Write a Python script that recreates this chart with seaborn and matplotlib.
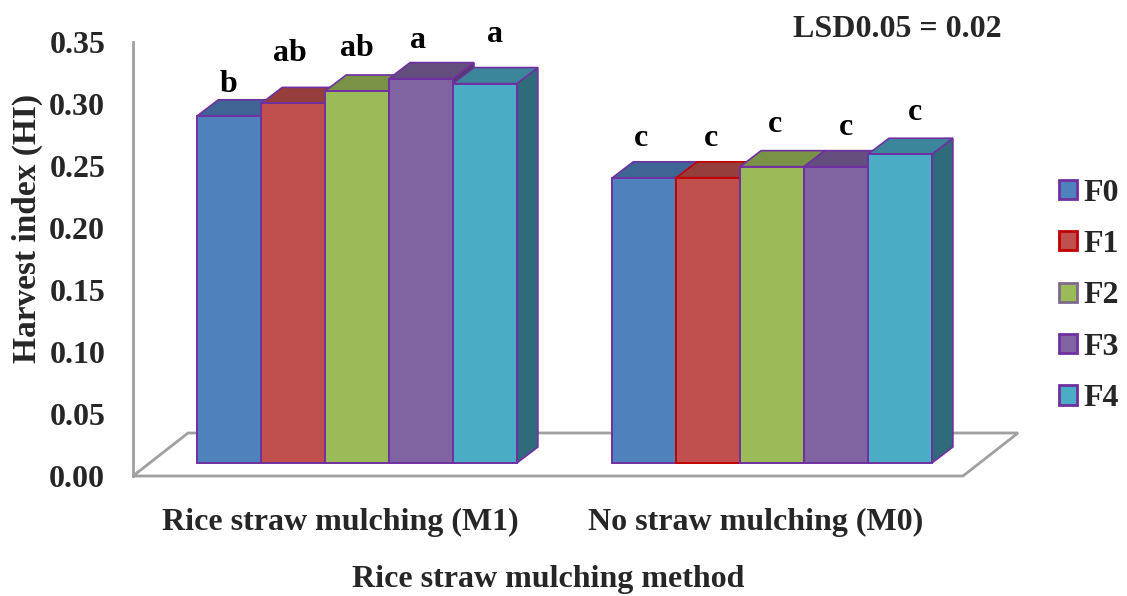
import numpy as np
import pandas as pd
import matplotlib
matplotlib.use("Agg")
import matplotlib.pyplot as plt
import matplotlib.colors as mcolors
from matplotlib import transforms
from matplotlib.patches import Polygon, Patch
import seaborn as sns

# ---- data -------------------------------------------------------------
methods = ["Rice straw mulching (M1)", "No straw mulching (M0)"]
fertilizers = ["F0", "F1", "F2", "F3", "F4"]
hi_m1 = [0.280, 0.290, 0.300, 0.310, 0.306]
hi_m0 = [0.230, 0.230, 0.239, 0.239, 0.249]
letters_m1 = ["b", "ab", "ab", "a", "a"]
letters_m0 = ["c", "c", "c", "c", "c"]
y_ticks = [0.00, 0.05, 0.10, 0.15, 0.20, 0.25, 0.30, 0.35]
lsd_label = "LSD0.05 = 0.02"
y_title = "Harvest index (HI)"
x_title = "Rice straw mulching method"

# ---- style ------------------------------------------------------------
face_colors = ["#4F81BD", "#C0504D", "#9BBB59", "#8064A2", "#4BACC6"]
legend_edges = ["#7030A0", "#C00000", "#7F6A8C", "#7030A0", "#7030A0"]
purple = "#7030A0"
axis_gray = "#A0A0A0"
FS = 23

# letter placement relative to the front top edge of each bar (pixels)
nudge_m1 = [(-1, 31), (-3, 50), (0, 42), (-3, 38), (10, 49)]
nudge_m0 = [(-3, 39), (3, 39), (3, 42), (10, 39), (15, 42)]

# pseudo-3D geometry (pixels): floor depth, bar position in depth, bar depth
FLOOR_DX, FLOOR_DY = 55, 43
FRONT_DX, FRONT_DY = 16.6, 13
BAR_DX, BAR_DY = 21, 16

sns.set_style("white")
plt.rcParams["font.family"] = ["Liberation Serif", "DejaVu Serif"]
plt.rcParams["font.weight"] = "bold"

df = pd.DataFrame({
    "method": np.repeat(methods, len(fertilizers)),
    "fert": fertilizers * len(methods),
    "hi": hi_m1 + hi_m0,
})

W, H, DPI = 1127, 596, 100
fig = plt.figure(figsize=(W / DPI, H / DPI), dpi=DPI)
ax = fig.add_axes([133 / W, 1 - 476 / H, (963 - 133) / W, (476 - 42) / H])

sns.barplot(data=df, x="method", y="hi", hue="fert", order=methods,
            hue_order=fertilizers, palette=face_colors, saturation=1,
            width=0.77, legend=False, ax=ax)

ax.set_xlim(-0.5, 1.5)
ax.set_ylim(0, 0.35)

# bars stand a little behind the front edge of the floor
front_tr = transforms.offset_copy(ax.transData, fig=fig, x=FRONT_DX,
                                  y=FRONT_DY, units="dots")
ident = transforms.IdentityTransform()


def shade(color, f):
    r, g, b = mcolors.to_rgb(color)
    return (r * f, g * f, b * f)


# collect bars by method, left to right
groups = {0: [], 1: []}
for k, cont in enumerate(ax.containers):
    for j, bar in enumerate(cont):
        groups[j].append((k, bar))

for j, items in groups.items():
    items.sort(key=lambda t: t[1].get_x())
    for order, (k, bar) in enumerate(items):
        edge = "#C00000" if (j == 1 and k == 1) else purple
        x0 = bar.get_x()
        x1 = x0 + bar.get_width()
        h = bar.get_height()
        bar.set_transform(front_tr)
        bar.set_edgecolor(edge)
        bar.set_linewidth(1.4)
        bar.set_zorder(5 + 3 * order + 2)
        bar.set_clip_on(False)
        (ax0, ay0), (ax1, ay1) = front_tr.transform([(x0, 0), (x1, h)])
        top = [(ax0, ay1), (ax1, ay1), (ax1 + BAR_DX, ay1 + BAR_DY),
               (ax0 + BAR_DX, ay1 + BAR_DY)]
        side = [(ax1, ay0), (ax1 + BAR_DX, ay0 + BAR_DY),
                (ax1 + BAR_DX, ay1 + BAR_DY), (ax1, ay1)]
        fc = face_colors[k]
        ax.add_patch(Polygon(side, closed=True, transform=ident,
                             facecolor=shade(fc, 0.62), edgecolor=edge,
                             linewidth=1.2, zorder=5 + 3 * order,
                             clip_on=False))
        ax.add_patch(Polygon(top, closed=True, transform=ident,
                             facecolor=shade(fc, 0.78), edgecolor=edge,
                             linewidth=1.2, zorder=5 + 3 * order + 1,
                             clip_on=False))
        letters = letters_m1 if j == 0 else letters_m0
        nudges = nudge_m1 if j == 0 else nudge_m0
        dx, dy = nudges[k]
        ax.annotate(letters[k], xy=((x0 + x1) / 2, h), xycoords=front_tr,
                    xytext=(dx, dy), textcoords="offset pixels",
                    ha="center", va="center", fontsize=FS,
                    fontweight="bold", color="black", zorder=40,
                    annotation_clip=False)

# floor of the 3D plot area
(fx0, fy0), (fx1, _) = ax.transData.transform([(-0.5, 0), (1.5, 0)])
floor = [(fx0, fy0), (fx1, fy0), (fx1 + FLOOR_DX, fy0 + FLOOR_DY),
         (fx0 + FLOOR_DX, fy0 + FLOOR_DY)]
ax.add_patch(Polygon(floor, closed=True, transform=ident, facecolor="none",
                     edgecolor=axis_gray, linewidth=2, zorder=2,
                     clip_on=False))

# axes styling
for name in ["top", "right", "bottom"]:
    ax.spines[name].set_visible(False)
ax.spines["left"].set_color(axis_gray)
ax.spines["left"].set_linewidth(2)
ax.set_yticks(y_ticks)
ax.set_yticklabels([f"{v:.2f}" for v in y_ticks])
ax.tick_params(axis="y", direction="out", length=8, width=2,
               color=axis_gray, pad=12, labelsize=FS)
ax.set_xticks([0, 1])
ax.set_xticklabels(methods)
ax.set_xticks([-0.5, 0.5, 1.5], minor=True)
ax.tick_params(axis="x", which="major", length=0, pad=23, labelsize=FS)
ax.tick_params(axis="x", which="minor", direction="out", length=8,
               width=2, color=axis_gray)
for lab in ax.get_xticklabels() + ax.get_yticklabels():
    lab.set_fontweight("bold")
ax.set_xlabel("")
ax.set_ylabel("")
ax.grid(False)

fig.text(548 / W, 1 - 587 / H, x_title, ha="center", va="baseline",
         fontsize=FS, fontweight="bold")
fig.text(27 / W, 1 - 228 / H, y_title, ha="center", va="center",
         rotation=90, fontsize=FS + 1, fontweight="bold")
fig.text(897 / W, 1 - 37 / H, lsd_label, ha="center", va="baseline",
         fontsize=FS, fontweight="bold")

handles = [Patch(facecolor=c, edgecolor=e, linewidth=2)
           for c, e in zip(face_colors, legend_edges)]
fig.legend(handles, fertilizers, loc="center left",
           bbox_to_anchor=(1059 / W, 1 - 296 / H), frameon=False,
           handlelength=0.55, handleheight=0.55, borderaxespad=0,
           handletextpad=0.2, labelspacing=0.7, borderpad=0,
           prop={"weight": "bold", "size": FS})

fig.savefig("out.png", dpi=DPI)
